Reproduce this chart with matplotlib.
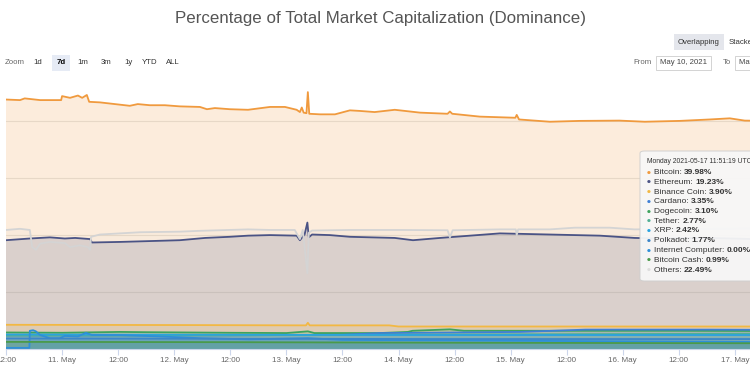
import numpy as np
import matplotlib
matplotlib.use("Agg")
import matplotlib.pyplot as plt
from matplotlib.patches import FancyBboxPatch

# time axis in hours after 2021-05-10 12:00 UTC
btc_t = [0, 3, 4, 7.3, 9.4, 11.8, 12, 13.7, 15.4, 16.3, 17.3, 17.8, 20.1, 23.3, 26.5,
         28.2, 30.8, 34, 37.2, 41.5, 43, 44.7, 47.9, 51.8, 56.5, 59.7, 62.2, 62.9, 63.3,
         63.7, 64.3, 64.6, 64.9, 67.2, 70.4, 73.6, 75.7, 78.9, 83.2, 88.6, 94.5, 95, 95.5,
         101.4, 109, 109.3, 109.8, 116.4, 122.8, 131.3, 136.7, 144.2, 150.6, 154.9, 158.1, 168]
btc_v = [43.8, 43.7, 44.0, 43.7, 43.7, 43.7, 44.4, 44.1, 44.5, 44.1, 44.6, 43.4, 43.3, 43.0, 42.7,
         43.0, 42.8, 42.8, 42.6, 42.5, 42.1, 42.3, 42.1, 42.0, 42.5, 42.5, 42.0, 41.6, 42.4,
         41.5, 41.4, 45.1, 41.3, 41.2, 41.2, 41.9, 41.8, 41.6, 42.0, 41.5, 41.3, 41.7, 41.3,
         40.8, 40.6, 41.1, 40.3, 39.9, 40.05, 40.1, 39.9, 40.05, 40.3, 40.5, 40.1, 40.0]

eth_t = [0, 5.1, 9.4, 12.6, 14.8, 18, 18.4, 24.4, 33, 37.2, 42.6, 47.9, 51.8, 56.5, 62.2,
         62.9, 63.9, 64.5, 64.8, 65.5, 69.3, 73.6, 78.3, 83.2, 87.1, 92.9, 99.3, 105.7,
         116.4, 127.1, 134.5, 140, 150, 160, 168]
eth_v = [19.1, 19.4, 19.6, 19.4, 19.5, 19.3, 18.7, 18.8, 19.0, 19.1, 19.5, 19.7, 19.9, 20.0, 19.9,
         19.1, 20.1, 22.2, 19.6, 20.1, 20.0, 19.7, 19.6, 19.5, 19.1, 19.5, 19.9, 20.3,
         20.1, 19.9, 19.5, 19.4, 19.5, 19.3, 19.2]

oth_t = [0, 3, 5.1, 5.6, 6.4, 7.3, 9.4, 12.6, 13.7, 15.8, 17.5, 18, 18.2, 20.1, 28.7, 37.2,
         41.5, 51.8, 56.5, 61.8, 62.9, 63.5, 64.5, 64.8, 65.5, 69.3, 73.6, 84.3, 94.5, 95,
         95.6, 105.7, 109.1, 109.3, 109.6, 116.4, 121.7, 129.2, 134.5, 150, 168]
oth_v = [20.9, 21.1, 20.9, 17.9, 17.4, 18.5, 18.8, 18.6, 17.9, 18.2, 17.9, 17.4, 19.7, 20.1, 20.5, 20.6,
         20.75, 21.0, 20.9, 20.9, 19.3, 20.9, 13.3, 20.4, 20.8, 20.85, 20.9, 20.9, 20.85, 19.6,
         20.85, 21.0, 21.0, 20.0, 21.0, 21.0, 21.3, 21.3, 21.0, 21.1, 21.2]

bnb_t = [0, 40, 64.2, 64.6, 65.0, 82, 84, 120, 168]
bnb_v = [4.25, 4.2, 4.15, 4.6, 4.15, 4.15, 3.95, 3.95, 3.95]

ada_t = [0, 24, 48, 72, 80, 90, 110, 124, 150, 168]
ada_v = [2.4, 2.4, 2.4, 2.5, 2.8, 2.85, 3.0, 3.4, 3.4, 3.35]

doge_t = [0, 12, 24.4, 30, 48, 60, 64.6, 66, 80, 86, 87, 95, 98, 120, 144, 168]
doge_v = [2.9, 2.85, 3.0, 2.95, 2.85, 2.8, 3.1, 2.8, 2.8, 3.0, 3.2, 3.45, 3.2, 3.2, 3.2, 3.15]

usdt_t = [0, 48, 96, 168]
usdt_v = [2.35, 2.4, 2.55, 2.7]

xrp_t = [0, 48, 96, 168]
xrp_v = [2.55, 2.5, 2.45, 2.45]

dot_t = [0, 48, 96, 168]
dot_v = [1.85, 1.8, 1.75, 1.75]

icp_t = [0, 5.0, 5.1, 5.8, 6.4, 7.3, 9.4, 11.5, 12.6, 15.4, 17.1, 18.4, 24.4, 33, 41.5, 52,
         64.6, 72, 96, 120, 144, 168]
icp_v = [0.2, 0.2, 3.2, 3.3, 3.1, 2.45, 1.9, 1.9, 2.3, 2.2, 2.85, 2.45, 2.45, 2.2, 1.9, 1.7,
         1.9, 1.6, 1.5, 1.4, 1.3, 1.2]

bch_t = [0, 48, 96, 168]
bch_v = [1.25, 1.2, 1.1, 1.0]

series = [
    ("Bitcoin", btc_t, btc_v, "#f09a3e"),
    ("Ethereum", eth_t, eth_v, "#4a5385"),
    ("Others", oth_t, oth_v, "#d4d4d4"),
    ("Binance Coin", bnb_t, bnb_v, "#f2b843"),
    ("Dogecoin", doge_t, doge_v, "#3da35d"),
    ("Cardano", ada_t, ada_v, "#3f7fd6"),
    ("Tether", usdt_t, usdt_v, "#50af95"),
    ("XRP", xrp_t, xrp_v, "#2aa3e0"),
    ("Internet Computer", icp_t, icp_v, "#2e8fd8"),
    ("Polkadot", dot_t, dot_v, "#3b86c9"),
    ("Bitcoin Cash", bch_t, bch_v, "#4a9a4a"),
]

tick_labels = ["12:00", "11. May", "12:00", "12. May", "12:00", "13. May", "12:00",
               "14. May", "12:00", "15. May", "12:00", "16. May", "12:00", "17. May", "12:00"]

tooltip_head = "Monday 2021-05-17 11:51:19 UTC"
tooltip_rows = [("Bitcoin", "39.98%", "#f09a3e"), ("Ethereum", "19.23%", "#4a5385"),
                ("Binance Coin", "3.90%", "#f2b843"), ("Cardano", "3.35%", "#3f7fd6"),
                ("Dogecoin", "3.10%", "#3da35d"), ("Tether", "2.77%", "#50af95"),
                ("XRP", "2.42%", "#2aa3e0"), ("Polkadot", "1.77%", "#3b86c9"),
                ("Internet Computer", "0.00%", "#2e8fd8"), ("Bitcoin Cash", "0.99%", "#4a9a4a"),
                ("Others", "22.49%", "#dddddd")]

W, H = 750, 375
fig = plt.figure(figsize=(7.5, 3.75), dpi=100)
sans = ["Liberation Sans", "DejaVu Sans"]

def px(x, y):
    return x / W, 1 - y / H

# plot area: left 6px, bottom 349px, reaches past right edge of the picture
ax = fig.add_axes([6 / W, 26 / H, 785 / W, 262 / H])
ax.set_xlim(0, 168)
ax.set_ylim(0, 46)
ax.set_facecolor("white")
for g in [10, 20, 30, 40]:
    ax.axhline(g, color="#e6e6e6", lw=0.8, zorder=0.5)

for i, (name, t, v, c) in enumerate(series):
    a = 0.06 if name == "Others" else 0.18
    ax.fill_between(t, v, 0, color=c, alpha=a, lw=0, zorder=1 + i * 0.01)
for i, (name, t, v, c) in enumerate(series):
    ax.plot(t, v, color=c, lw=1.3, zorder=3 + i * 0.01, solid_joinstyle="round")

for s in ["top", "right", "left"]:
    ax.spines[s].set_visible(False)
ax.spines["bottom"].set_color("#ccd6eb")
ax.spines["bottom"].set_linewidth(0.8)
ax.set_yticks([])
ax.set_xticks(np.arange(0, 169, 12))
ax.set_xticklabels(tick_labels, fontsize=5.8, color="#666666", family=sans)
ax.tick_params(axis="x", length=4, color="#ccd6eb", pad=2)

# title and controls
fig.text(*px(380, 19), "Percentage of Total Market Capitalization (Dominance)", ha="center",
         va="center", fontsize=12.2, color="#555555", family=sans)
fig.text(*px(699, 42), "Overlapping", ha="center", va="center", fontsize=5.6, color="#333333",
         family=sans, bbox=dict(boxstyle="square,pad=0.55", fc="#e4e6ec", ec="none"))
fig.text(*px(729, 42), "Stacked", ha="left", va="center", fontsize=5.6, color="#333333",
         family=sans)
fig.text(*px(5, 63), "Zoom", ha="left", va="center", fontsize=5.6, color="#666666", family=sans)
for lab, x in [("1d", 38), ("7d", 61), ("1m", 83), ("3m", 106), ("1y", 128), ("YTD", 150), ("ALL", 173)]:
    if lab == "7d":
        fig.text(*px(x, 63), lab, ha="center", va="center", fontsize=5.6, color="#000000",
                 weight="bold", family=sans,
                 bbox=dict(boxstyle="square,pad=0.6", fc="#e6ebf5", ec="none"))
    else:
        fig.text(*px(x, 63), lab, ha="center", va="center", fontsize=5.6, color="#333333",
                 family=sans)
fig.text(*px(652, 63), "From", ha="right", va="center", fontsize=5.6, color="#666666", family=sans)
fig.text(*px(660, 63), "May 10, 2021", ha="left", va="center", fontsize=5.6, color="#444444",
         family=sans, bbox=dict(boxstyle="square,pad=0.5", fc="white", ec="#cccccc", lw=0.6))
fig.text(*px(731, 63), "To", ha="right", va="center", fontsize=5.6, color="#666666", family=sans)
fig.text(*px(739, 63), "May 17, 2021", ha="left", va="center", fontsize=5.6, color="#444444",
         family=sans, bbox=dict(boxstyle="square,pad=0.5", fc="white", ec="#cccccc", lw=0.6))

# tooltip
x0, y0 = px(640, 281)
box = FancyBboxPatch((x0, y0), 130 / W, 130 / H, boxstyle="round,pad=0,rounding_size=0.006",
                     transform=fig.transFigure, fc="#f7f7f7", ec="#cfcfcf", lw=0.7, alpha=0.95,
                     zorder=10)
fig.patches.append(box)
fig.text(*px(647, 162), tooltip_head, ha="left", va="center", fontsize=4.9, color="#333333",
         family=sans, zorder=11)
renderer = fig.canvas.get_renderer()
for k, (n, val, c) in enumerate(tooltip_rows):
    y = 172.5 + k * 9.75
    fig.text(*px(649, y), "\u25cf", ha="center", va="center", fontsize=3.2, color=c, zorder=11)
    t = fig.text(*px(654, y), n + ": ", ha="left", va="center", fontsize=6.0, color="#333333",
                 family=sans, zorder=11)
    bb = t.get_window_extent(renderer=renderer)
    fig.text(bb.x1 / W, 1 - y / H, val, ha="left", va="center", fontsize=6.0, color="#333333",
             weight="bold", family=sans, zorder=11)

fig.savefig("out.png", dpi=100)
